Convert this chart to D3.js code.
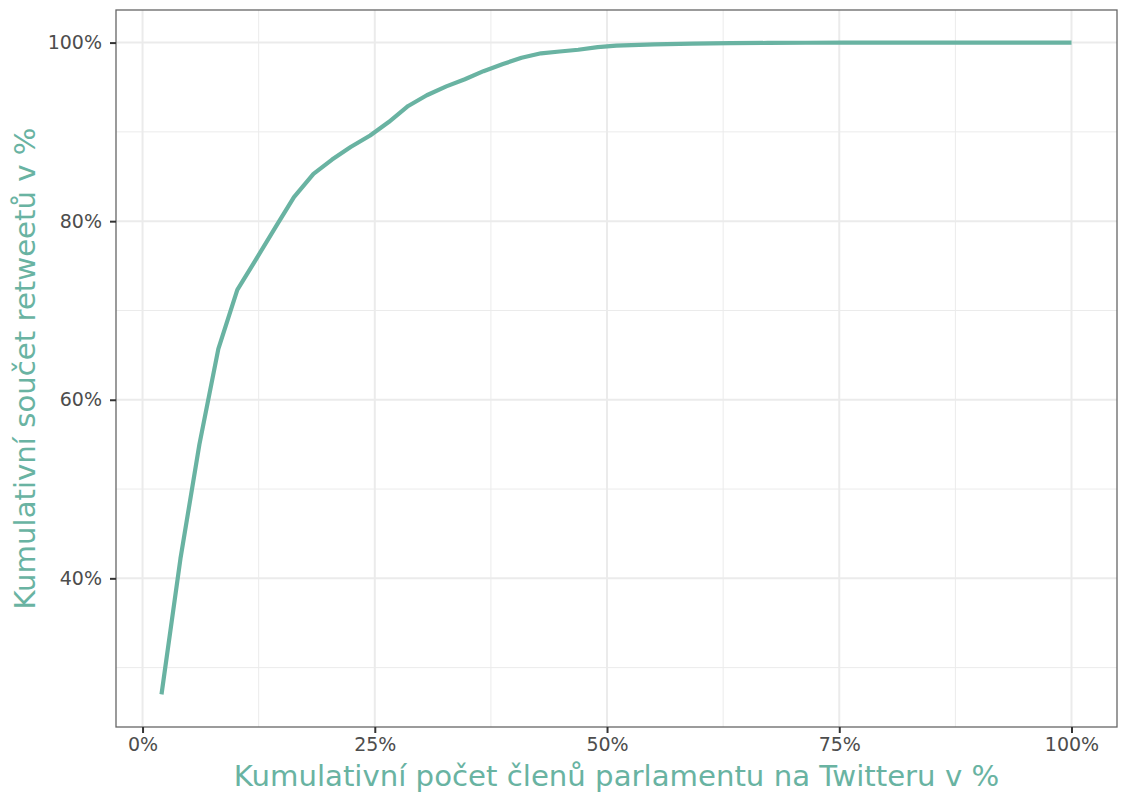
<!DOCTYPE html>
<html>
<head>
<meta charset="utf-8">
<script src="https://cdn.jsdelivr.net/npm/d3@7"></script>
<style>
  body { margin: 0; background: #fff; }
  svg text { font-family: "DejaVu Sans", sans-serif; }
</style>
</head>
<body>
<div id="chart"></div>
<script>
// podíl členů parlamentu (x, %) a kumulativní podíl retweetů (y, %)
var clenove = [2.04, 4.08, 6.12, 8.16, 10.2, 12.2, 14.3, 16.3, 18.4, 20.4, 22.4, 24.5, 26.5, 28.6,
               30.6, 32.7, 34.7, 36.7, 38.8, 40.8, 42.9, 44.9, 46.9, 49.0, 51.0, 55.1, 59.2, 63.3,
               67.3, 71.4, 75.5, 80, 90, 100],
    retweety = [27.0, 42.2, 55.0, 65.7, 72.3, 75.7, 79.3, 82.7, 85.3, 86.9, 88.3, 89.6, 91.1, 92.9,
                94.1, 95.1, 95.9, 96.8, 97.6, 98.3, 98.8, 99.0, 99.2, 99.5, 99.65, 99.8, 99.88, 99.93,
                99.96, 99.98, 100, 100, 100, 100],
    xTicks = [0, 25, 50, 75, 100],
    yTicks = [40, 60, 80, 100],
    xMinor = [12.5, 37.5, 62.5, 87.5],
    yMinor = [30, 50, 70, 90];

var W = 1123, H = 793,
    margin = {top: 10, right: 6, bottom: 66, left: 116},
    width = W - margin.left - margin.right,
    height = H - margin.top - margin.bottom,
    teal = "#69b3a2";

var data = clenove.map((d, i) => ({x: d, y: retweety[i]}));

var svg = d3.select("#chart").append("svg")
    .attr("width", W)
    .attr("height", H);

var g = svg.append("g")
    .attr("transform", "translate(" + margin.left + "," + margin.top + ")");

// ggplot-like 5% expansion
var xr = d3.extent(clenove), yr = d3.extent(retweety);
var xPad = (xr[1] - xr[0]) * 0.05, yPad = (yr[1] - yr[0]) * 0.05;

var x = d3.scaleLinear()
    .domain([xr[0] - xPad, xr[1] + xPad])
    .range([0, width]);

var y = d3.scaleLinear()
    .domain([yr[0] - yPad, yr[1] + yPad])
    .range([height, 0]);

// grid
g.selectAll("line.xminor").data(xMinor).enter().append("line")
    .attr("x1", d => x(d)).attr("x2", d => x(d))
    .attr("y1", 0).attr("y2", height)
    .attr("stroke", "#ebebeb").attr("stroke-width", 1);
g.selectAll("line.yminor").data(yMinor).enter().append("line")
    .attr("y1", d => y(d)).attr("y2", d => y(d))
    .attr("x1", 0).attr("x2", width)
    .attr("stroke", "#ebebeb").attr("stroke-width", 1);
g.selectAll("line.xmajor").data(xTicks).enter().append("line")
    .attr("x1", d => x(d)).attr("x2", d => x(d))
    .attr("y1", 0).attr("y2", height)
    .attr("stroke", "#ebebeb").attr("stroke-width", 2);
g.selectAll("line.ymajor").data(yTicks).enter().append("line")
    .attr("y1", d => y(d)).attr("y2", d => y(d))
    .attr("x1", 0).attr("x2", width)
    .attr("stroke", "#ebebeb").attr("stroke-width", 2);

// the line
var line = d3.line()
    .x(d => x(d.x))
    .y(d => y(d.y));

g.append("path")
    .datum(data)
    .attr("fill", "none")
    .attr("stroke", teal)
    .attr("stroke-width", 4.2)
    .attr("stroke-linejoin", "round")
    .attr("d", line);

// panel border
g.append("rect")
    .attr("width", width).attr("height", height)
    .attr("fill", "none")
    .attr("stroke", "#666")
    .attr("stroke-width", 1.3);

// axes
var xAxis = g.append("g")
    .attr("transform", "translate(0," + height + ")")
    .call(d3.axisBottom(x).tickValues(xTicks).tickFormat(d => d + "%").tickSize(6).tickPadding(5));
var yAxis = g.append("g")
    .call(d3.axisLeft(y).tickValues(yTicks).tickFormat(d => d + "%").tickSize(6).tickPadding(8));

[xAxis, yAxis].forEach(a => {
    a.select(".domain").remove();
    a.selectAll(".tick line").attr("stroke", "#333").attr("stroke-width", 2);
    a.selectAll(".tick text")
        .attr("fill", "#4d4d4d")
        .style("font-size", "19px")
        .style("font-family", "DejaVu Sans, sans-serif");
});

// axis titles
svg.append("text")
    .attr("x", margin.left + width / 2)
    .attr("y", 786)
    .attr("text-anchor", "middle")
    .attr("fill", teal)
    .style("font-size", "29.2px")
    .text("Kumulativní počet členů parlamentu na Twitteru v %");

svg.append("text")
    .attr("transform", "translate(35," + (margin.top + height / 2) + ") rotate(-90)")
    .attr("text-anchor", "middle")
    .attr("fill", teal)
    .style("font-size", "29.2px")
    .text("Kumulativní součet retweetů v %");
</script>
</body>
</html>
